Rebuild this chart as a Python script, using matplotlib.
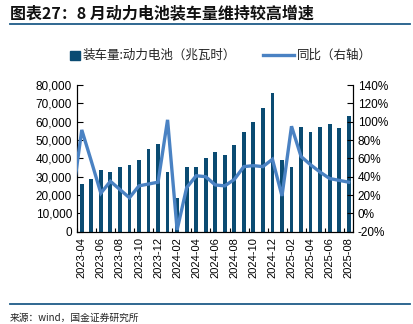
import matplotlib
matplotlib.use('Agg')
import matplotlib.pyplot as plt
from matplotlib.patches import Rectangle
from matplotlib.lines import Line2D
from matplotlib.ticker import FuncFormatter, FixedLocator

plt.rcParams['font.family'] = ['Liberation Sans', 'Noto Sans CJK SC']

months = ['2023-03', '2023-04', '2023-05', '2023-06', '2023-07', '2023-08', '2023-09',
          '2023-10', '2023-11', '2023-12', '2024-01', '2024-02', '2024-03', '2024-04',
          '2024-05', '2024-06', '2024-07', '2024-08', '2024-09', '2024-10', '2024-11',
          '2024-12', '2025-01', '2025-02', '2025-03', '2025-04', '2025-05', '2025-06',
          '2025-07', '2025-08']
# 装车量 (MWh)
volume = [27800, 25800, 28800, 33500, 32800, 35500, 36600, 39300, 45100, 48000,
          32800, 18500, 35500, 35500, 40000, 43500, 42000, 47300, 54300, 59600,
          67600, 75500, 39300, 35300, 57100, 54300, 57100, 58500, 56400, 63000]
# 同比 (%)
yoy = [15, 91, 57, 22, 35, 26, 17, 30, 32, 34,
       102, -18, 28, 41, 40, 31, 30, 37, 51, 52,
       51, 59, 19, 95, 62, 53, 45, 38, 36, 34]

bar_color = '#0A4B72'
line_color = '#4A82C3'
cjk = 'Noto Sans CJK SC'

fig = plt.figure(figsize=(4.13, 3.24), dpi=100)
ax = fig.add_axes([77 / 413, 1 - 231.7 / 324, 276 / 413, (231.7 - 85) / 324])
ax2 = ax.twinx()

x = list(range(-1, len(months) - 1))
ax.bar(x, volume, width=0.4, color=bar_color, zorder=2)
ax2.plot(x, yoy, color=line_color, lw=2.4, zorder=3, solid_joinstyle='miter')

ax.set_xlim(-0.5, 28.45)
ax.set_ylim(0, 80000)
ax2.set_ylim(-20, 140)
ax.set_yticks(range(0, 80001, 10000))
ax2.set_yticks(range(-20, 141, 20))
ax.yaxis.set_major_formatter(FuncFormatter(lambda v, p: f'{int(v):,}'))
ax2.yaxis.set_major_formatter(FuncFormatter(lambda v, p: f'{int(v)}%'))

lab_idx = list(range(0, 29, 2))
ax.xaxis.set_major_locator(FixedLocator(lab_idx))
ax.set_xticklabels([months[i + 1] for i in lab_idx], rotation=90, fontsize=8)
ax.xaxis.set_minor_locator(FixedLocator([i - 0.5 for i in lab_idx]))
ax.tick_params(axis='x', which='major', length=0, pad=4)
ax.tick_params(axis='x', which='minor', length=3, direction='in', width=0.8)
ax.tick_params(axis='y', direction='in', length=4, labelsize=8.5, width=0.8)
ax2.tick_params(axis='y', direction='in', length=4, labelsize=8.5, width=0.8)

for a in (ax, ax2):
    a.spines['top'].set_visible(False)
    for s in ('left', 'right', 'bottom'):
        a.spines[s].set_linewidth(0.8)
ax.set_zorder(ax2.get_zorder() - 1)
ax.patch.set_visible(False)

# title and rules
fig.text(10 / 413, 1 - 13 / 324, '图表27：8 月动力电池装车量维持较高增速', family=cjk,
         fontsize=11.5, fontweight='bold', va='center', ha='left', color='#111111')
fig.add_artist(Line2D([10 / 413, 410 / 413], [1 - 23.5 / 324] * 2, color='#1F5C88', lw=1.3))
fig.add_artist(Line2D([10 / 413, 410 / 413], [1 - 304 / 324] * 2, color='#1F5C88', lw=1.3))
fig.text(10 / 413, 1 - 318 / 324, '来源：wind，国金证券研究所', family=cjk, fontsize=7,
         va='center', ha='left', color='#222222')

# legend
ly = 1 - 55 / 324
fig.add_artist(Rectangle((70 / 413, ly - 4.5 / 324), 10 / 413, 9 / 324, color=bar_color,
                         transform=fig.transFigure))
fig.text(83 / 413, ly, '装车量:动力电池（兆瓦时）', family=cjk, fontsize=9,
         va='center', ha='left', color='#222222')
fig.add_artist(Line2D([263 / 413, 294 / 413], [ly, ly], color=line_color, lw=2.4))
fig.text(297 / 413, ly, '同比（右轴）', family=cjk, fontsize=9,
         va='center', ha='left', color='#222222')

fig.savefig('out.png', dpi=100)
